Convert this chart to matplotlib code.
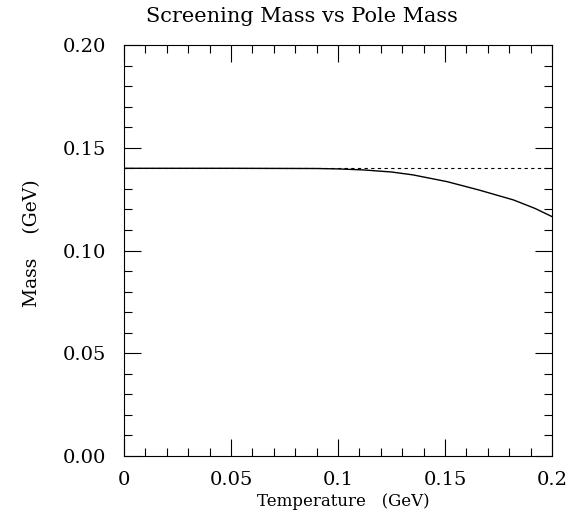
import matplotlib
matplotlib.use("Agg")
import matplotlib.pyplot as plt
from matplotlib.ticker import MultipleLocator, FixedLocator

# Data
temp_screen = [0.0, 0.05, 0.09, 0.10, 0.112, 0.125, 0.135, 0.151, 0.166, 0.182, 0.192, 0.20]
mass_screen = [0.1400, 0.1400, 0.1399, 0.1397, 0.1392, 0.1382, 0.1368, 0.1335, 0.1294, 0.1246, 0.1205, 0.1165]
temp_pole = [0.0, 0.20]
mass_pole = [0.140, 0.140]

xticks = [0, 0.05, 0.1, 0.15, 0.2]
xticklabels = ["0", "0.05", "0.1", "0.15", "0.2"]
yticks = [0.0, 0.05, 0.10, 0.15, 0.20]
yticklabels = ["0.00", "0.05", "0.10", "0.15", "0.20"]

plt.rcParams['font.family'] = ['DejaVu Serif']

W, H = 569, 512
fig = plt.figure(figsize=(W/100, H/100), dpi=100)
ax = fig.add_axes([124/W, 1-456/H, (552-124)/W, (456-45)/H])

ax.plot(temp_pole, mass_pole, color='black', lw=0.8, ls=(0, (3, 3)))
ax.plot(temp_screen, mass_screen, color='black', lw=1.0)

ax.set_xlim(0, 0.2)
ax.set_ylim(0, 0.2)
ax.xaxis.set_major_locator(FixedLocator(xticks))
ax.set_xticklabels(xticklabels)
ax.yaxis.set_major_locator(FixedLocator(yticks))
ax.set_yticklabels(yticklabels)
ax.xaxis.set_minor_locator(MultipleLocator(0.01))
ax.yaxis.set_minor_locator(MultipleLocator(0.01))
ax.tick_params(which='both', direction='in', top=True, right=True, width=0.8, colors='black')
ax.tick_params(which='major', length=12, labelsize=14)
ax.tick_params(axis='y', which='major', pad=13)
ax.tick_params(axis='x', which='major', pad=11)
ax.tick_params(which='minor', length=6)
for s in ax.spines.values():
    s.set_linewidth(0.8)

fig.text(302/W, 1-16/H, "Screening Mass vs Pole Mass", fontsize=15, ha='center', va='center')
fig.text(343/W, 1-501/H, "Temperature   (GeV)", fontsize=12, ha='center', va='center')
fig.text(32/W, 1-243/H, "Mass    (GeV)", fontsize=13.5, ha='center', va='center', rotation=90)

fig.savefig("out.png", dpi=100)
